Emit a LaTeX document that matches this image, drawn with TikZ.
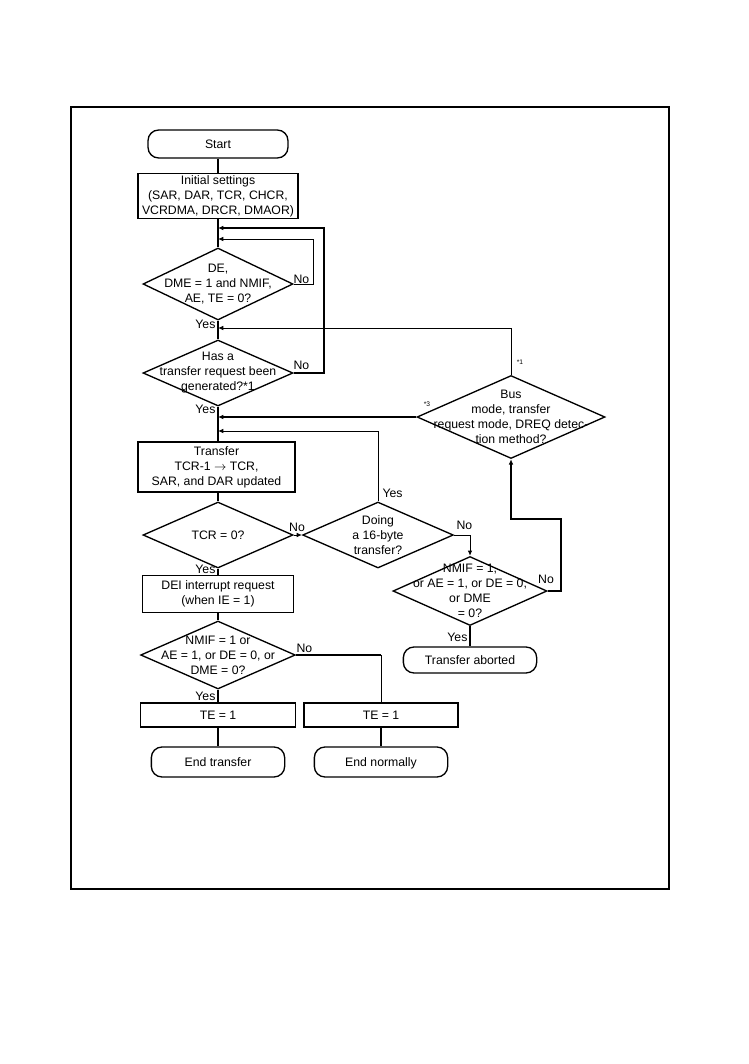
\documentclass[tikz,border=0pt]{standalone}
\usepackage{fontspec}
\setmainfont{Liberation Sans}
\usetikzlibrary{shapes.geometric,arrows.meta,calc}

\begin{document}
\begin{tikzpicture}[x=0.75pt,y=-0.75pt,
    every node/.style={font=\fontsize{9.2}{11.25}\selectfont},
    box/.style={draw,rectangle,line width=1pt,inner sep=0pt,align=center},
    term/.style={draw,rectangle,rounded corners=8pt,line width=1pt,inner sep=0pt,align=center,
        text height=1.6ex,text depth=0.4ex},
    decision/.style={draw,diamond,line width=1pt,inner sep=0pt},
    flow/.style={line width=1.5pt},
    back/.style={line width=0.75pt},
    tip/.style={-{Latex[length=4pt,width=3.5pt]}},
    note/.style={inner sep=1pt},
    star/.style={font=\fontsize{5}{6}\selectfont,inner sep=0pt}]

    \useasboundingbox (0,0) rectangle (749,1064);
    \draw[line width=1.5pt] (71,107) rectangle (669,889);

    \node[term,minimum width=105pt,minimum height=21pt] (start) at (218,144) {Start};
    \node[box,minimum width=120pt,minimum height=33.75pt] (init) at (218,196)
        {Initial settings\\(SAR, DAR, TCR, CHCR,\\VCRDMA, DRCR, DMAOR)};
    \node[decision,minimum width=112.5pt,minimum height=54pt,
        label={[align=center]center:{DE,\\DME = 1 and NMIF,\\AE, TE = 0?}}] (chk) at (218,284) {};
    \node[decision,minimum width=112.5pt,minimum height=49.5pt,
        label={[align=center]center:{Has a\\transfer request been\\generated?*1}}] (req) at (218,373) {};
    \node[decision,minimum width=141pt,minimum height=62.25pt,
        label={[align=center]center:{Bus\\mode, transfer\\request mode, DREQ detec-\\tion method?}}] (bus) at (511,417) {};
    \node[box,minimum width=117.75pt,minimum height=37.5pt] (xfer) at (216.5,467)
        {Transfer\\TCR-1 $\rightarrow$ TCR,\\SAR, and DAR updated};
    \node[decision,minimum width=112.5pt,minimum height=49.5pt,
        label={center:TCR = 0?}] (tcr) at (218,535) {};
    \node[decision,minimum width=113pt,minimum height=49.5pt,
        label={[align=center]center:{Doing\\a 16-byte\\transfer?}}] (doing) at (378,535) {};
    \node[decision,minimum width=115.5pt,minimum height=51.75pt,
        label={[align=center]center:{NMIF = 1,\\or AE = 1, or DE = 0,\\or DME\\= 0?}}] (nmif) at (470,591) {};
    \node[term,minimum width=100pt,minimum height=19.5pt] (abort) at (470,660) {Transfer aborted};
    \node[box,minimum width=113pt,minimum height=27.75pt] (dei) at (218,594)
        {DEI interrupt request\\(when IE = 1)};
    \node[decision,minimum width=116pt,minimum height=51pt,
        label={[align=center]center:{NMIF = 1 or\\AE = 1, or DE = 0, or\\DME = 0?}}] (err) at (218,655) {};
    \node[box,minimum width=116pt,minimum height=18pt] (te1) at (218,715) {TE = 1};
    \node[box,minimum width=115.5pt,minimum height=18pt] (te2) at (381,715) {TE = 1};
    \node[term,minimum width=100pt,minimum height=22.5pt] (endx) at (218,762) {End transfer};
    \node[term,minimum width=100pt,minimum height=22.5pt] (endn) at (381,762) {End normally};

    \coordinate (j0) at (218,228);
    \coordinate (j1) at (218,239);
    \coordinate (j2) at (218,328);
    \coordinate (j3) at (req.south |- bus.west);
    \coordinate (j4) at (218,431);

    \draw[flow] (start) -- (init);
    \draw[flow] (init) -- (chk);
    \draw[flow] (chk) -- (req);
    \draw[flow] (req) -- (req.south |- xfer.north);
    \draw[flow] (xfer.south -| tcr.north) -- (tcr);
    \draw[flow] (tcr) -- (dei);
    \draw[flow] (dei) -- (err);
    \draw[flow] (err) -- (te1);
    \draw[flow] (te1) -- (endx);
    \draw[flow] (te2) -- (endn);
    \draw[flow] (nmif) -- (abort);

    \draw[back,tip] (chk.east) -- ++(20,0) |- (j1);
    \draw[flow,tip] (req.east) -- ++(30,0) |- (j0);
    \draw[back,tip] (bus.north) |- (j2);
    \draw[flow,tip] (bus.west) -- (j3);
    \draw[back,tip] (doing.north) |- (j4);
    \draw[back,tip] (tcr.east) -- (doing.west);
    \draw[back,tip] (doing.east) -| (nmif.north);
    \draw[flow,tip] (nmif.east) -- ++(13,0) -- ++(0,-72) -| (bus.south);
    \draw[flow] (err.east) -- (err.east -| te2.north);
    \draw[back] (err.east -| te2.north) -- (te2.north);

    \node[note,anchor=east] (y1) at (217,324) {Yes};
    \node[note,anchor=east] (y2) at (217,409) {Yes};
    \node[note,anchor=east] (y3) at (217,569) {Yes};
    \node[note,anchor=east] (y4) at (217,696) {Yes};
    \node[note,anchor=east] (y5) at (469,637) {Yes};
    \node[note,anchor=west] (y6) at (381,493) {Yes};
    \node[note,anchor=south west] (n1) at (292,285) {No};
    \node[note,anchor=south west] (n2) at (292,371) {No};
    \node[note,anchor=south] (n3) at (297,533) {No};
    \node[note,anchor=south west] (n4) at (455,531) {No};
    \node[note,anchor=south] (n5) at (546,585) {No};
    \node[note,anchor=south west] (n6) at (295,654) {No};
    \node[star] (s1) at (520,362) {*1};
    \node[star] (s3) at (427,404) {*3};
\end{tikzpicture}
\end{document}
